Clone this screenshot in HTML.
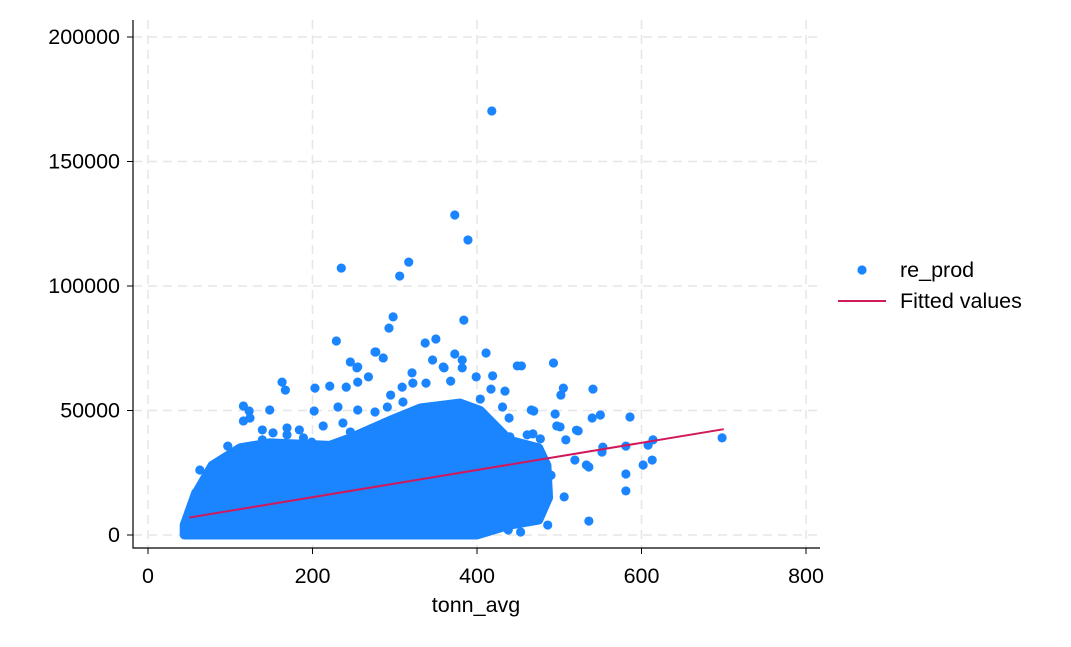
<!DOCTYPE html>
<html><head><meta charset="utf-8"><style>
body{margin:0;background:#fff;}
svg text{font-family:"Liberation Sans",sans-serif;fill:#000;}
</style></head><body>
<svg id="chart" width="1071" height="642" viewBox="0 0 1071 642" xmlns="http://www.w3.org/2000/svg">
<rect width="1071" height="642" fill="#fff"/>
<g id="grid"></g><g id="dense"></g><g id="pts"></g><g id="fit"></g><g id="axes"></g>
<g>
<circle cx="862" cy="270" r="4.6" fill="#1a85ff"/>
<text x="900" y="277" font-size="21.5">re_prod</text>
<line x1="838" y1="301" x2="886" y2="301" stroke="#d1185a" stroke-width="2"/>
<text x="900" y="308" font-size="21.5">Fitted values</text>
</g>
</svg>
<script>
const xTicks=[0,200,400,600,800];
const yTicks=[0,50000,100000,150000,200000];
const denseX=[44,44,57,78,112,148,221,246,294,331,379,404,440,475,485,487,475,440,400];
const denseY=[0,4000,16000,28000,35000,37000,36000,39000,46000,51000,53000,50000,38000,35000,28000,15000,6000,4000,0];
const ptX=[418,373,389,317,235,306,298,293,384,229,350,277,337,346,373,411,360,449,493,246,254,163,167,505,541,116,148,586,550,698,614,581,608,602,613,533,581,581,536,486,553,536,552,508,521,540,501,466,495,506,478,452,445,438,453,468,519,477,123,116,97,58,63,
124,139,139,152,169,169,184,189,199,203,202,213,221,231,241,237,246,255,255,255,268,276,276,286,291,295,309,310,321,322,338,359,368,382,382,399,419,417,434,404,431,439,454,469,502,497,523,468,440,461,470,480,490];
const ptY=[170300,128500,118500,109600,107200,104000,87600,83100,86300,77900,78700,73500,77100,70300,72700,73100,67100,67900,69100,69500,67100,61400,58200,59000,58600,51800,50200,47400,48200,39000,38200,35700,36100,28100,30100,28100,24500,17700,5600,4000,35300,27300,33300,38200,42100,47000,43400,50200,48600,15300,25300,12000,6000,2000,1200,16100,30100,38600,49800,45800,35700,16900,26100,
47000,42200,38200,41000,43000,40200,42200,39000,37300,59000,49800,43800,59800,51400,59400,45000,41400,67500,61400,50200,63500,49400,73500,71100,51400,56200,59400,53400,65100,61000,61000,67500,61800,70300,67100,63500,63900,58600,57800,54600,51400,47000,67900,49800,56200,43800,41800,40600,39400,40200,22000,20000,24000];
const fitX=[50,700];
const fitY=[7000,42500];
const X=v=>148+v*0.8225, Y=v=>535-v*0.00249;
const ns='http://www.w3.org/2000/svg';
function mk(t,p,a){const e=document.createElementNS(ns,t);for(const k in a)e.setAttribute(k,a[k]);p.appendChild(e);return e;}
const grid=document.getElementById('grid'),axes=document.getElementById('axes');
yTicks.forEach(v=>{const l=mk('line',grid,{x1:133,x2:820,y1:Y(v),y2:Y(v),stroke:'#e6e6e6','stroke-width':1.5,'stroke-dasharray':'9,6'});


const t=mk('line',axes,{x1:127,x2:133,y1:Y(v),y2:Y(v),stroke:'#000','stroke-width':1});


const tx=mk('text',axes,{x:120,y:Y(v)+7,'text-anchor':'end','font-size':21.5});tx.textContent=v;

});
xTicks.forEach(v=>{const l=mk('line',grid,{x1:X(v),x2:X(v),y1:20,y2:548,stroke:'#e6e6e6','stroke-width':1.5,'stroke-dasharray':'9,6'});


const t=mk('line',axes,{x1:X(v),x2:X(v),y1:548,y2:554,stroke:'#000','stroke-width':1});


const tx=mk('text',axes,{x:X(v),y:583,'text-anchor':'middle','font-size':21.5});tx.textContent=v;

});
const ax=mk('path',axes,{d:'M133,20 V548 H820',fill:'none',stroke:'#000','stroke-width':1.2});


const xt=mk('text',axes,{x:476,y:612,'text-anchor':'middle','font-size':21.5});xt.textContent='tonn_avg';


const dp=mk('polygon',document.getElementById('dense'),{points:denseX.map((x,i)=>X(x)+','+Y(denseY[i])).join(' '),fill:'#1a85ff',stroke:'#1a85ff','stroke-width':9,'stroke-linejoin':'round'});


const pg=document.getElementById('pts');
ptX.forEach((x,i)=>{const c=mk('circle',pg,{cx:X(x),cy:Y(ptY[i]),r:4.6,fill:'#1a85ff'});

});
const fl=mk('line',document.getElementById('fit'),{x1:X(fitX[0]),y1:Y(fitY[0]),x2:X(fitX[1]),y2:Y(fitY[1]),stroke:'#d1185a','stroke-width':2});


</script>
</body></html>
